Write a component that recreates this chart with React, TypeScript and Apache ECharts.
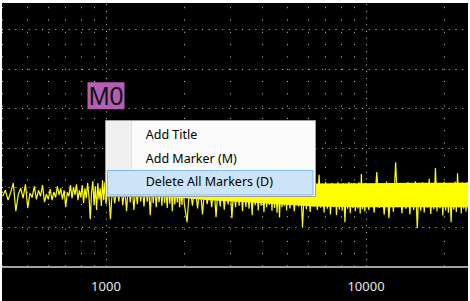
import React, { useEffect, useRef } from 'react';
import * as echarts from 'echarts';

// Signal (Hz, dB) — segment 400..1000 Hz
const seg1Hz = [400, 410, 420, 430, 440, 450, 460, 470, 480, 490, 500, 510, 520, 530, 540, 550, 560, 570, 580, 590, 600, 610, 620, 630, 640, 650, 660, 670, 680, 690, 700, 710, 720, 730, 740, 750, 760, 770, 780, 790, 800, 810, 820, 830, 840, 850, 860, 870, 880, 890, 900, 910, 920, 930, 940, 950, 960, 970, 980, 990, 1000];
const seg1Db = [-82.2, -80.7, -83.2, -81.2, -78.9, -86.0, -81.7, -80.2, -82.7, -79.2,
  -85.2, -81.4, -82.5, -79.7, -83.0, -80.7, -82.2, -79.4, -83.7, -81.7,
  -83.0, -80.4, -83.2, -81.2, -82.5, -79.7, -81.9, -80.2, -83.0, -80.7,
  -85.0, -81.2, -82.2, -79.4, -82.7, -79.9, -81.9, -79.2, -83.2, -80.7,
  -82.5, -79.4, -84.0, -80.2, -82.7, -78.9, -82.2, -88.0, -81.2, -78.4,
  -84.5, -79.7, -85.7, -78.9, -83.0, -80.2, -84.7, -78.2, -83.2, -78.7,
  -84.2];
// 1020..2000 Hz
const seg2Hz = [1020, 1040, 1060, 1080, 1100, 1120, 1140, 1160, 1180, 1200, 1220, 1240, 1260, 1280, 1300, 1320, 1340, 1360, 1380, 1400, 1420, 1440, 1460, 1480, 1500, 1520, 1540, 1560, 1580, 1600, 1620, 1640, 1660, 1680, 1700, 1720, 1740, 1760, 1780, 1800, 1820, 1840, 1860, 1880, 1900, 1920, 1940, 1960, 1980, 2000];
const seg2Db = [-79.2, -88.0, -79.5, -84.0, -80.0, -83.5, -79.0, -84.5, -80.2, -86.0,
  -79.0, -83.8, -79.6, -85.7, -80.0, -84.2, -79.3, -83.5, -79.8, -84.8,
  -79.1, -83.6, -80.0, -87.0, -79.4, -84.0, -79.0, -85.0, -80.1, -83.7,
  -79.5, -84.6, -79.2, -83.9, -80.0, -85.2, -79.4, -84.1, -79.8, -86.0,
  -79.1, -84.3, -79.7, -83.8, -79.3, -85.0, -79.9, -84.4, -79.0, -84.0];
// 2050..5000 Hz
const seg3Hz = [2050, 2100, 2150, 2200, 2250, 2300, 2350, 2400, 2450, 2500, 2550, 2600, 2650, 2700, 2750, 2800, 2850, 2900, 2950, 3000, 3050, 3100, 3150, 3200, 3250, 3300, 3350, 3400, 3450, 3500, 3550, 3600, 3650, 3700, 3750, 3800, 3850, 3900, 3950, 4000, 4050, 4100, 4150, 4200, 4250, 4300, 4350, 4400, 4450, 4500, 4550, 4600, 4650, 4700, 4750, 4800, 4850, 4900, 4950, 5000];
const seg3Db = [-88.8, -79.2, -84.6, -79.6, -85.3, -79.0, -86.8, -79.4, -84.2, -79.8,
  -85.0, -79.1, -87.5, -79.5, -84.8, -79.0, -85.6, -79.7, -84.3, -79.2,
  -87.8, -79.6, -85.0, -79.0, -84.6, -79.5, -86.0, -79.1, -84.9, -79.8,
  -85.4, -79.2, -87.0, -79.5, -84.5, -79.0, -85.8, -79.6, -84.7, -79.2,
  -86.2, -79.7, -85.0, -79.0, -84.4, -79.4, -85.9, -79.1, -85.2, -79.8,
  -86.4, -79.3, -87.6, -79.0, -85.0, -79.5, -84.6, -79.2, -85.8, -79.6];
// 5100..10000 Hz
const seg4Hz = [5100, 5200, 5300, 5400, 5500, 5600, 5700, 5800, 5900, 6000, 6100, 6200, 6300, 6400, 6500, 6600, 6700, 6800, 6900, 7000, 7100, 7200, 7300, 7400, 7500, 7600, 7700, 7800, 7900, 8000, 8100, 8200, 8300, 8400, 8500, 8600, 8700, 8800, 8900, 9000, 9100, 9200, 9300, 9400, 9500, 9600, 9700, 9800, 9900, 10000];
const seg4Db = [-85.3, -79.1, -86.0, -79.4, -84.8, -79.0, -90.0, -79.5, -85.5, -79.2,
  -86.2, -78.9, -84.9, -79.3, -85.7, -76.8, -85.1, -79.0, -86.3, -78.6,
  -85.4, -79.2, -86.8, -78.8, -85.0, -79.3, -87.0, -78.7, -85.6, -79.1,
  -85.9, -78.9, -88.8, -79.2, -85.4, -78.6, -86.5, -79.0, -85.2, -78.8,
  -86.0, -79.1, -85.3, -78.7, -86.6, -76.6, -85.5, -79.0, -86.1, -78.8];
// 10250..24750 Hz
const seg5Hz = [10250, 10500, 10750, 11000, 11250, 11500, 11750, 12000, 12250, 12500, 12750, 13000, 13250, 13500, 13750, 14000, 14250, 14500, 14750, 15000, 15250, 15500, 15750, 16000, 16250, 16500, 16750, 17000, 17250, 17500, 17750, 18000, 18250, 18500, 18750, 19000, 19250, 19500, 19750, 20000, 20250, 20500, 20750, 21000, 21250, 21500, 21750, 22000, 22250, 22500, 22750, 23000, 23250, 23500, 23750, 24000, 24250, 24500, 24750];
const seg5Db = [-85.7, -79.2, -86.4, -76.1, -85.2, -79.0, -86.9, -78.5, -87.8, -79.1,
  -86.2, -73.6, -85.0, -78.8, -86.5, -79.3, -85.4, -78.6, -86.8, -79.0,
  -85.7, -78.4, -90.3, -79.2, -85.9, -78.7, -86.3, -79.1, -85.1, -77.8,
  -86.7, -79.0, -85.5, -75.1, -86.0, -78.9, -85.3, -79.2, -87.1, -78.6,
  -85.8, -79.0, -86.4, -78.8, -88.8, -79.3, -85.6, -78.5, -86.2, -76.4,
  -85.0, -79.1, -86.6, -78.7, -85.4, -79.0, -86.1, -78.6, -85.5];

// Solid core of the dense noise band
const coreHz = [1500, 2500, 4000, 6300, 10000, 16000, 24680];
const coreHigh = [-80.5, -80.0, -79.5, -79.0, -78.9, -78.8, -78.8];
const coreLow = [-82.0, -83.2, -84.0, -84.8, -85.0, -85.0, -85.0];

// Axes
const xMin = 398.1;
const xMax = 24680;
const xTickLabels = [1000, 10000];
const majorGridHz = [1000, 10000];
const minorGridHz = [400, 500, 600, 700, 800, 900, 2000, 3000, 4000, 5000, 6000, 7000, 8000, 9000, 20000];
const yMin = -100;
const yMax = -30;
const yStep = 10;

// Marker
const markerHz = 1000;
const markerDb = -60;
const markerName = 'M0';

// Context menu
const menuItems = ['Add Title', 'Add Marker (M)', 'Delete All Markers (D)'];
const menuItemY = [131.3, 155.0, 178.8];

export default function App() {
  const ref = useRef<HTMLDivElement>(null);
  useEffect(() => {
    const chart = echarts.init(ref.current!, null, { renderer: 'svg' });
    const zip = (hz: number[], db: number[]) => hz.map((f, i) => [f, db[i]]);
    const signal = [
      ...zip(seg1Hz, seg1Db),
      ...zip(seg2Hz, seg2Db),
      ...zip(seg3Hz, seg3Db),
      ...zip(seg4Hz, seg4Db),
      ...zip(seg5Hz, seg5Db),
    ];
    const dot = '#c8c8c8';
    const gridLines = [
      ...majorGridHz.map((f) => ({ xAxis: f, lineStyle: { color: dot, width: 1, type: [1, 5.7] } })),
      ...minorGridHz.map((f) => ({ xAxis: f, lineStyle: { color: dot, width: 1, type: [1, 11.3] } })),
    ];
    const font = '"Noto Sans", "Open Sans", sans-serif';
    const graphic: any[] = [
      { type: 'rect', z: 100, silent: true, shape: { x: 103.5, y: 117.5, width: 210, height: 76 }, style: { fill: '#fbfbfb', stroke: '#a0a0a0', lineWidth: 1 } },
      { type: 'rect', z: 101, silent: true, shape: { x: 104, y: 118, width: 25.5, height: 75 }, style: { fill: '#f0f0f0' } },
      { type: 'line', z: 101, silent: true, shape: { x1: 129.5, y1: 118, x2: 129.5, y2: 193 }, style: { stroke: '#e2e3e3', lineWidth: 1 } },
      { type: 'rect', z: 102, silent: true, shape: { x: 105.5, y: 167.5, width: 205.5, height: 24.5 }, style: { fill: '#cce4f7', stroke: '#80b8ec', lineWidth: 1 } },
      ...menuItems.map((t, i) => ({
        type: 'text', z: 103, silent: true, x: 143.7, y: menuItemY[i],
        style: { text: t, fill: '#000', fontSize: 12.5, fontFamily: font, verticalAlign: 'middle', textVerticalAlign: 'middle', align: 'left' },
      })),
    ];
    chart.setOption({
      animation: false,
      backgroundColor: '#000',
      grid: { left: 0, right: 0, top: -13, bottom: 34.5, containLabel: false, outerBoundsMode: 'none' },
      xAxis: {
        type: 'log',
        logBase: 10,
        min: xMin,
        max: xMax,
        axisLine: { show: true, lineStyle: { color: '#a0a0a0', width: 2 } },
        axisTick: { show: false },
        splitLine: { show: false },
        axisLabel: {
          color: '#e6e6e6',
          fontSize: 13,
          fontFamily: font,
          margin: 13,
          showMinLabel: false,
          showMaxLabel: false,
          formatter: (v: number) => (xTickLabels.some((t) => Math.abs(t - v) / t < 1e-6) ? String(Math.round(v)) : ''),
        },
      },
      yAxis: {
        type: 'value',
        min: yMin,
        max: yMax,
        interval: yStep,
        axisLine: { show: false },
        axisTick: { show: false },
        axisLabel: { show: false },
        splitLine: { show: true, lineStyle: { color: dot, width: 1, type: [1, 5.67] } },
      },
      graphic,
      series: [
        {
          type: 'line',
          name: 'gridLines',
          data: [[xMin, yMin]],
          symbol: 'none',
          silent: true,
          z: 1,
          lineStyle: { opacity: 0, width: 0 },
          markLine: {
            z: 1,
            silent: true,
            symbol: ['none', 'none'],
            label: { show: false },
            data: gridLines,
          },
        },
        {
          type: 'custom',
          name: 'core',
          silent: true,
          z: 2,
          data: [[0]],
          renderItem: (_params: any, api: any) => {
            const top = coreHz.map((f, i) => api.coord([f, coreHigh[i]]));
            const bottom = coreHz.map((f, i) => api.coord([f, coreLow[i]])).reverse();
            return {
              type: 'polygon',
              shape: { points: [...top, ...bottom] },
              style: { fill: '#ffff00', stroke: 'none' },
            };
          },
        },
        {
          type: 'line',
          name: 'signal',
          data: signal,
          symbol: 'none',
          silent: true,
          z: 3,
          lineStyle: { color: '#ffff00', width: 1.2 },
          markPoint: {
            silent: true,
            symbol: 'rect',
            symbolSize: [37, 27],
            symbolOffset: [0, -12.7],
            itemStyle: { color: '#b45fb4' },
            label: {
              show: true,
              position: 'inside',
              formatter: markerName,
              color: '#111',
              fontSize: 25,
              fontFamily: '"Liberation Sans", Arial, sans-serif',
            },
            data: [{ coord: [markerHz, markerDb], name: markerName }],
          },
        },
      ],
    });
    return () => chart.dispose();
  }, []);
  return (
    <div style={{ position: 'fixed', left: 0, top: 0, width: 470, height: 301, background: '#fff' }}>
      <div ref={ref} style={{ position: 'absolute', left: 2, top: 3, width: 466, height: 298 }} />
    </div>
  );
}
